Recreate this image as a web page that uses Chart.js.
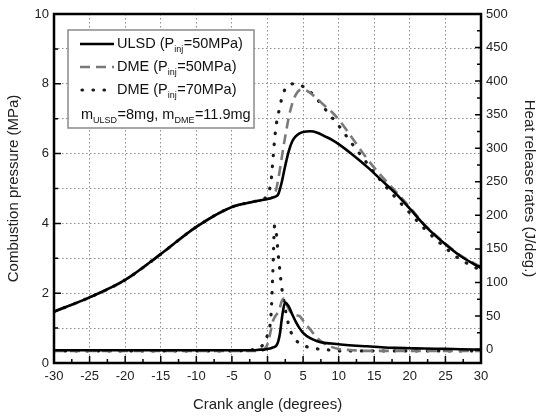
<!DOCTYPE html>
<html>
<head>
<meta charset="utf-8">
<script src="https://cdn.jsdelivr.net/npm/chart.js@4.4.1/dist/chart.umd.min.js"></script>
<style>
  html, body { margin: 0; padding: 0; background: #fff; }
  #wrap { width: 538px; height: 418px; }
</style>
</head>
<body>
<div id="wrap"><canvas id="chart" width="538" height="418"></canvas></div>
<script>
// crank angle (degrees) shared by every curve
const crankAngle = [-30, -25, -20, -15, -10, -5, -2, -1, -0.5, 0,
    0.5, 0.75, 1, 1.25, 1.5, 1.75, 2, 2.25, 2.5,
    3, 3.5, 4, 4.5, 5, 6, 7, 8, 9, 10,
    12, 14, 16, 18, 20, 22, 25, 27, 30];

// combustion pressure (MPa), left axis
const ulsdPressure = [1.47, 1.88, 2.38, 3.12, 3.9, 4.47, 4.62, 4.66, 4.68, 4.70,
    4.72, 4.74, 4.76, 4.78, 4.83, 4.98, 5.18, 5.42, 5.66,
    6.08, 6.36, 6.5, 6.58, 6.62, 6.64, 6.6, 6.5, 6.4, 6.27,
    5.96, 5.62, 5.24, 4.86, 4.42, 3.96, 3.4, 3.08, 2.72];
const dme50Pressure = [1.47, 1.88, 2.38, 3.12, 3.9, 4.47, 4.62, 4.66, 4.68, 4.70,
    4.73, 4.76, 4.84, 5.0, 5.25, 5.55, 5.88, 6.2, 6.5,
    7.05, 7.45, 7.7, 7.82, 7.84, 7.74, 7.56, 7.38, 7.2, 6.98,
    6.42, 5.85, 5.36, 4.92, 4.46, 3.98, 3.42, 3.1, 2.75];
const dme70Pressure = [1.47, 1.88, 2.38, 3.12, 3.9, 4.47, 4.62, 4.66, 4.69, 4.85,
    5.2, 5.8, 6.4, 6.85, 7.12, 7.35, 7.58, 7.74, 7.86,
    7.97, 8.0, 8.0, 7.98, 7.92, 7.77, 7.55, 7.3, 7.05, 6.8,
    6.25, 5.72, 5.2, 4.74, 4.3, 3.86, 3.3, 2.98, 2.65];

// heat release rate (J/deg.), right axis
const ulsdHrr = [-1, -1, -1, -1, -1, -1, -1, 0, 0, 1,
    2, 3, 4, 6, 12, 24, 45, 62, 70,
    64, 52, 41, 32, 25, 17, 12.5, 10, 9, 8,
    6, 5, 3.5, 2.5, 2, 1.5, 1, 0.5, 0];
const dme50Hrr = [-2, -2, -2, -2, -2, -2, -2, -2, 0, 8,
    30, 42, 48, 52, 56, 63, 72, 76, 72,
    60, 53, 51, 50, 43, 30, 17, 9, 4, 1,
    -1, -2, -2, -2, -2, -2, -2, -2, -2];
const dme70Hrr = [-2, -2, -2, -2, -2, -2, 0, 3, 10, 22,
    52, 115, 185, 172, 142, 116, 92, 76, 60,
    36, 21, 14, 9, 6, 3, 1, 0, -1, -2,
    -2, -2, -2, -2, -2, -2, -2, -2, -2];

// right axis tick values (labels every 50)
const hrrTicks = [0, 25, 50, 75, 100, 125, 150, 175, 200, 225, 250,
    275, 300, 325, 350, 375, 400, 425, 450, 475, 500];

const FONT = '"Liberation Sans", Arial, sans-serif';
const GRID = '#8c8c8c';

function pts(values) {
    return crankAngle.map((a, i) => ({ x: a, y: values[i] }));
}

const solid = { borderColor: '#000', borderWidth: 2.6, borderDash: [] };
const dashed = { borderColor: '#7a7a7a', borderWidth: 2.6, borderDash: [10, 6] };
const dotted = { borderColor: '#1a1a1a', borderWidth: 3.2, borderDash: [0.5, 10.5], borderCapStyle: 'round' };

// inward ticks, frame and the legend box with subscripts
const framePlugin = {
    id: 'frame',
    afterDraw(chart) {
        const ctx = chart.ctx;
        const a = chart.chartArea;
        const sx = chart.scales.x, sy = chart.scales.y, sr = chart.scales.y2;
        ctx.save();
        ctx.strokeStyle = '#000';
        ctx.lineWidth = 1.5;
        ctx.setLineDash([]);
        ctx.beginPath();
        for (let v = -30; v <= 30; v += 2.5) {
            const px = sx.getPixelForValue(v);
            const len = v % 5 === 0 ? 7 : 4;
            ctx.moveTo(px, a.bottom); ctx.lineTo(px, a.bottom - len);
        }
        for (let v = 0; v <= 10; v += 1) {
            const py = sy.getPixelForValue(v);
            const len = v % 2 === 0 ? 7 : 4;
            ctx.moveTo(a.left, py); ctx.lineTo(a.left + len, py);
        }
        hrrTicks.forEach(v => {
            const py = sr.getPixelForValue(v);
            const len = v % 50 === 0 ? 6 : 4;
            ctx.moveTo(a.right, py); ctx.lineTo(a.right - len, py);
        });
        ctx.stroke();

        ctx.lineWidth = 2.5;
        ctx.strokeRect(a.left, a.top, a.right - a.left, a.bottom - a.top);

        // legend
        const bx = 68, by = 30, bw = 186, bh = 98;
        ctx.fillStyle = '#fff';
        ctx.fillRect(bx, by, bw, bh);
        ctx.strokeStyle = '#8a8a8a';
        ctx.lineWidth = 1.5;
        ctx.strokeRect(bx, by, bw, bh);

        const rows = [
            { y: 44, style: solid, parts: [['ULSD (P'], ['inj', 1], ['=50MPa)']] },
            { y: 67, style: dashed, parts: [['DME (P'], ['inj', 1], ['=50MPa)']] },
            { y: 90, style: dotted, parts: [['DME (P'], ['inj', 1], ['=70MPa)']] }
        ];
        rows.forEach(r => {
            ctx.strokeStyle = r.style.borderColor;
            ctx.lineWidth = r.style.borderWidth;
            ctx.lineCap = r.style.borderCapStyle || 'butt';
            ctx.setLineDash(r.style.borderDash);
            ctx.beginPath();
            ctx.moveTo(r.style === dotted ? 82 : 80, r.y);
            ctx.lineTo(114, r.y);
            ctx.stroke();
            ctx.setLineDash([]);
            ctx.lineCap = 'butt';
            drawRich(ctx, 117, r.y, r.parts);
        });
        drawRich(ctx, 81, 115, [['m'], ['ULSD', 1], ['=8mg, m'], ['DME', 1], ['=11.9mg']]);
        ctx.restore();
    }
};

function drawRich(ctx, x, y, parts) {
    ctx.fillStyle = '#111';
    ctx.textBaseline = 'middle';
    ctx.textAlign = 'left';
    parts.forEach(([txt, sub]) => {
        ctx.font = sub ? '9px ' + FONT : '14.5px ' + FONT;
        ctx.fillText(txt, x, sub ? y + 6 : y);
        x += ctx.measureText(txt).width + (sub ? 0.5 : 0);
    });
}

const tickFont = { family: FONT, size: 13 };
const titleFont = { family: FONT, size: 15 };

new Chart(document.getElementById('chart'), {
    type: 'line',
    data: {
        datasets: [
            { label: 'ULSD pressure', data: pts(ulsdPressure), yAxisID: 'y', ...solid },
            { label: 'ULSD HRR', data: pts(ulsdHrr), yAxisID: 'y2', ...solid },
            { label: 'DME50 pressure', data: pts(dme50Pressure), yAxisID: 'y', ...dashed },
            { label: 'DME50 HRR', data: pts(dme50Hrr), yAxisID: 'y2', ...dashed },
            { label: 'DME70 pressure', data: pts(dme70Pressure), yAxisID: 'y', ...dotted },
            { label: 'DME70 HRR', data: pts(dme70Hrr), yAxisID: 'y2', ...dotted }
        ]
    },
    options: {
        responsive: false,
        animation: false,
        layout: { padding: { top: 14, left: 0, right: 0, bottom: 0 } },
        elements: {
            point: { radius: 0 },
            line: { cubicInterpolationMode: 'monotone', fill: false }
        },
        plugins: { legend: { display: false }, tooltip: { enabled: false } },
        scales: {
            x: {
                type: 'linear', min: -30, max: 30,
                ticks: {
                    stepSize: 2.5, autoSkip: false, maxRotation: 0, padding: 6,
                    font: tickFont, color: '#222',
                    callback: v => (v % 5 === 0 ? v : '')
                },
                grid: {
                    drawTicks: false, lineWidth: 1,
                    color: c => (c.tick && c.tick.value % 5 === 0 && Math.abs(c.tick.value) !== 30) ? GRID : 'rgba(0,0,0,0)'
                },
                border: { display: false, dash: [1.5, 2.5] },
                title: { display: true, text: 'Crank angle (degrees)', font: titleFont, color: '#222', padding: { top: 5, bottom: 4 } },
                afterFit: s => { s.height = 55; }
            },
            y: {
                position: 'left', min: 0, max: 10,
                ticks: {
                    stepSize: 1, autoSkip: false, padding: 5,
                    font: tickFont, color: '#222',
                    callback: v => (v % 2 === 0 ? v : '')
                },
                grid: {
                    drawTicks: false, lineWidth: 1,
                    color: c => (c.tick && c.tick.value > 0 && c.tick.value < 10) ? GRID : 'rgba(0,0,0,0)'
                },
                border: { display: false, dash: [1.5, 2.5] },
                title: { display: true, text: 'Combustion pressure (MPa)', font: titleFont, color: '#222', padding: { top: 5, bottom: 4 } },
                afterFit: s => { s.width = 54; }
            },
            y2: {
                position: 'right', min: -20, max: 500,
                afterBuildTicks: s => { s.ticks = hrrTicks.map(v => ({ value: v })); },
                ticks: {
                    autoSkip: false, padding: 5,
                    font: tickFont, color: '#222',
                    callback: v => (v % 50 === 0 ? v : '')
                },
                grid: { display: false, drawTicks: false },
                border: { display: false },
                title: { display: true, text: 'Heat release rates (J/deg.)', font: titleFont, color: '#222', padding: { top: 0, bottom: 3 } },
                afterFit: s => { s.width = 57; }
            }
        }
    },
    plugins: [framePlugin]
});
</script>
</body>
</html>
